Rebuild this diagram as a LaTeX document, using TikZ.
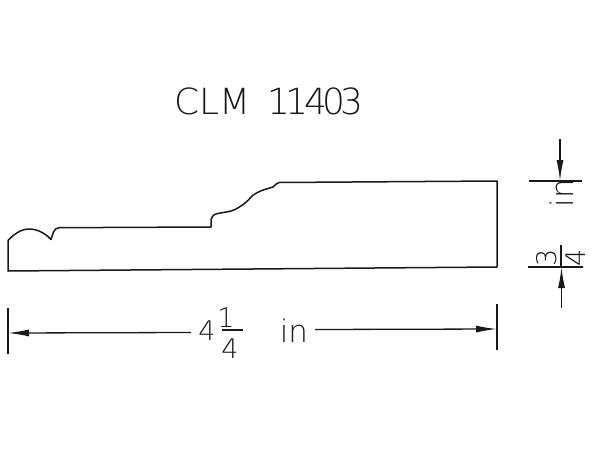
\documentclass[tikz,border=0pt]{standalone}
\usepackage{fontspec}
\setmainfont{DejaVu Sans ExtraLight}
\usetikzlibrary{arrows.meta}
\tikzset{
  profile/.style={line width=1.5pt,line join=round,color=black!90},
  dimline/.style={line width=1.3pt,color=black!90},
  dimarrow/.style={line width=1.3pt,color=black!90,-{Latex[length=21pt,width=7pt]}},
  cadtext/.style={inner sep=0pt,text=black!90}
}
\begin{document}
\begin{tikzpicture}[x=1pt,y=-1pt]
\useasboundingbox (0,0) rectangle (600,450);
% title
\node[cadtext,anchor=center] (title) at (269,101) {\fontsize{36}{36}\selectfont CLM\hspace{17pt}1\kern-4.7pt 1\kern-4.7pt 4\kern-4.7pt 0\kern-4.7pt 3};
% profile
\draw[profile] (8,271) -- (8,240.5)
  .. controls (12,236) and (20,229) .. (29,229)
  .. controls (38,229) and (46,234) .. (51,239.5)
  .. controls (53,235) and (53,228) .. (59,227.7)
  -- (211,227) -- (211,220)
  .. controls (212,216) and (214,214) .. (218,213.5)
  .. controls (224,212) and (231,212) .. (236,209)
  .. controls (243,205) and (247,202) .. (252,196)
  .. controls (258,191) and (266,189) .. (273,187)
  .. controls (276,185) and (276,183) .. (279,182.5)
  -- (497,181) -- (497,267) -- cycle;
% horizontal dimension
\coordinate (tl1) at (8,308); \coordinate (tl2) at (8,354);
\coordinate (tr1) at (497,304); \coordinate (tr2) at (497,350);
\draw[dimline] (tl1) -- (tl2);
\draw[dimline] (tr1) -- (tr2);
\coordinate (hl) at (191,332.5); \coordinate (hle) at (8,333);
\coordinate (hr) at (315,329.5); \coordinate (hre) at (497,329);
\draw[dimarrow] (hl) -- (hle);
\draw[dimarrow] (hr) -- (hre);
\node[cadtext] (w4) at (207,331) {\fontsize{27}{27}\selectfont 4};
\node[cadtext] (w1) at (226,317.5) {\fontsize{27}{27}\selectfont 1};
\node[cadtext] (wd) at (230,348.5) {\fontsize{27}{27}\selectfont 4};
\coordinate (wb1) at (222,330); \coordinate (wb2) at (243,330);
\draw[dimline] (wb1) -- (wb2);
\node[cadtext] (win) at (294,331) {\fontsize{31}{31}\selectfont in};
% vertical dimension
\coordinate (vt1) at (529,181); \coordinate (vt2) at (582,181);
\coordinate (vb1) at (528,267); \coordinate (vb2) at (583,267);
\draw[dimline] (vt1) -- (vt2);
\draw[dimline] (vb1) -- (vb2);
\coordinate (at) at (560,139); \coordinate (ate) at (560,181);
\coordinate (ab) at (561.5,308); \coordinate (abe) at (561.5,267);
\draw[dimarrow] (at) -- (ate);
\draw[dimarrow] (ab) -- (abe);
\node[cadtext,rotate=90] (hin) at (562,193) {\fontsize{31}{31}\selectfont in};
\node[cadtext,rotate=90] (h3) at (547,258) {\fontsize{27}{27}\selectfont 3};
\node[cadtext,rotate=90] (h4) at (576,258) {\fontsize{27}{27}\selectfont 4};
\coordinate (hb1) at (561,245); \coordinate (hb2) at (561,267);
\draw[dimline] (hb1) -- (hb2);
\end{tikzpicture}
\end{document}
